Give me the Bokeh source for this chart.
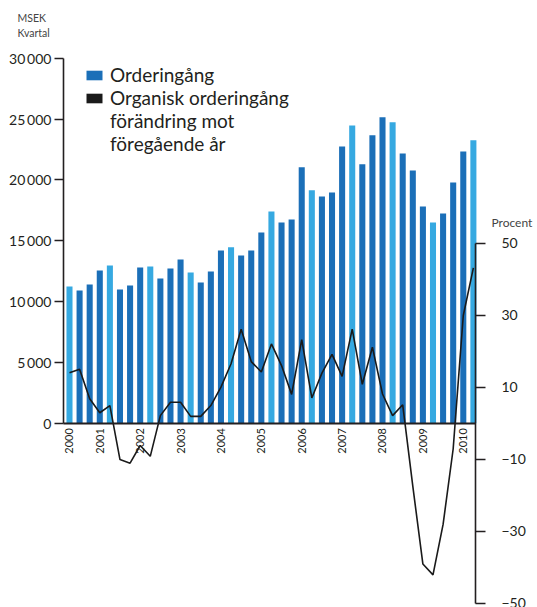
import math
from bokeh.plotting import figure
from bokeh.models import (Range1d, LinearAxis, FixedTicker, ColumnDataSource,
                          Legend, LegendItem, Label)
from bokeh.embed import file_html
from bokeh.resources import INLINE

# ---------------- data ----------------
years = list(range(2000, 2011))
quarters = [f"{y} K{q}" for y in years for q in (1, 2, 3, 4)][1:42]  # 2000 K2 .. 2010 K2

orders = [11240, 10910, 11410, 12560, 12970, 10990, 11320, 12800, 12890, 11900,
          12720, 13460, 12390, 11570, 12480, 14200, 14470, 13790, 14200, 15680,
          17410, 16500, 16750, 21030, 19140, 18640, 18970, 22750, 24480, 21280,
          23660, 25140, 24730, 22180, 20780, 17820, 16500, 17240, 19790, 22340,
          23250]

organic = [14.0, 15.0, 6.8, 2.9, 4.9, -10.1, -11.1, -6.2, -9.2, 2.1,
           5.8, 5.8, 1.9, 1.9, 4.9, 10.0, 16.5, 26.1, 17.1, 14.2,
           22.0, 16.0, 8.0, 23.2, 7.0, 13.9, 19.1, 13.0, 26.1, 10.8,
           21.1, 8.1, 2.1, 5.1, -17.5, -39.1, -42.1, -28.1, -7.1, 29.9,
           43.1]

left_ticks = [0, 5000, 10000, 15000, 20000, 25000, 30000]
left_tick_labels = ["0", "5\u2009000", "10\u2009000", "15\u2009000", "20\u2009000", "25\u2009000", "30\u2009000"]
right_ticks = [-50, -30, -10, 10, 30, 50]

legend_orders = "Orderingång"
legend_organic = ["Organisk orderingång", "förändring mot", "föregående år"]

# ---------------- styling ----------------
FONT = "Lato"
TXT = "#231f20"
DARK = "#1b6fb8"
LIGHT = "#36a9e1"

idx = list(range(len(quarters)))
is_q2 = [q.endswith("K2") for q in quarters]

src_dark = ColumnDataSource(dict(x=[i for i in idx if not is_q2[i]],
                                 top=[orders[i] for i in idx if not is_q2[i]]))
src_light = ColumnDataSource(dict(x=[i for i in idx if is_q2[i]],
                                  top=[orders[i] for i in idx if is_q2[i]]))
src_line = ColumnDataSource(dict(x=idx, y=organic))

X0, X1 = -0.6, 40.2  # data extent of the axes (left / right axis positions)

p = figure(width=537, height=607,
           x_range=Range1d(-6.833, 46.35), y_range=Range1d(-15150, 34747),
           output_backend="svg", toolbar_location=None, min_border=0)
p.outline_line_color = None
p.grid.visible = False
p.extra_y_ranges = {"pct": Range1d(-51.17, 117.35)}

r_dark = p.vbar(x="x", top="top", width=0.6, bottom=0, source=src_dark,
                fill_color=DARK, line_color=None)
p.vbar(x="x", top="top", width=0.6, bottom=0, source=src_light,
       fill_color=LIGHT, line_color=None)
p.line(x="x", y="y", source=src_line, y_range_name="pct",
       line_color="#1a1a1a", line_width=1.6)
# legend swatches (not drawn in the plot)
r_proxy = p.vbar(x="x", top="y", width=0.6, source=src_line, y_range_name="pct",
                 fill_color="#1a1a1a", line_color=None, visible=False)
r_blank = p.vbar(x="x", top="y", width=0.6, source=src_line, y_range_name="pct",
                 fill_alpha=0, line_alpha=0, visible=False)

# left axis
ya = p.yaxis[0]
ya.fixed_location = X0
ya.bounds = (0, 30000)
ya.ticker = FixedTicker(ticks=left_ticks)
ya.major_label_overrides = {t: l for t, l in zip(left_ticks, left_tick_labels)}
ya.minor_tick_line_color = None
ya.major_tick_in = 0
ya.major_tick_out = 9
ya.major_label_standoff = 3
ya.axis_line_width = 1.6
ya.major_tick_line_width = 1.6
ya.axis_line_color = TXT
ya.major_tick_line_color = TXT
ya.major_label_text_font = FONT
ya.major_label_text_font_size = "14px"
ya.major_label_text_color = TXT

# right axis
ra = LinearAxis(y_range_name="pct", bounds=(-50, 50), ticker=FixedTicker(ticks=right_ticks))
ra.fixed_location = X1
ra.minor_tick_line_color = None
ra.major_tick_in = 0
ra.major_tick_out = 10
ra.major_label_standoff = 16
ra.axis_line_width = 1.6
ra.major_tick_line_width = 1.6
ra.axis_line_color = TXT
ra.major_tick_line_color = TXT
ra.major_label_text_font = FONT
ra.major_label_text_font_size = "14px"
ra.major_label_text_color = TXT
p.add_layout(ra, "right")

# x axis at y=0
year_ticks = [i for i in idx if i == 0 or quarters[i].endswith("K1")]
xa = p.xaxis[0]
xa.fixed_location = 0
xa.bounds = (X0, X1)
xa.ticker = FixedTicker(ticks=year_ticks)
xa.major_label_overrides = {i: quarters[i][:4] for i in year_ticks}
xa.major_label_orientation = math.pi / 2
xa.minor_tick_line_color = None
xa.major_tick_line_color = None
xa.major_tick_in = 0
xa.major_tick_out = 0
xa.major_label_standoff = 5
xa.axis_line_width = 2
xa.axis_line_color = TXT
xa.major_label_text_font = FONT
xa.major_label_text_font_size = "11px"
xa.major_label_text_color = TXT

# texts
for txt, y in (("MSEK", 33268), ("Kvartal", 32035)):
    p.add_layout(Label(x=-5.15, y=y, text=txt, text_font=FONT, text_font_size="10.5px",
                       text_color="#444444", text_baseline="middle", text_align="left"))
p.add_layout(Label(x=41.79, y=16498, text="Procent", text_font=FONT, text_font_size="12px",
                   text_color="#444444", text_baseline="middle", text_align="left"))

legend = Legend(items=[LegendItem(label=legend_orders, renderers=[r_dark]),
                       LegendItem(label=legend_organic[0], renderers=[r_proxy]),
                       LegendItem(label=legend_organic[1], renderers=[r_blank]),
                       LegendItem(label=legend_organic[2], renderers=[r_blank])],
                location=(84, 452), glyph_width=20, glyph_height=12,
                label_text_font=FONT, label_text_font_size="19px", label_text_color=TXT,
                label_text_line_height=0.95, label_height=19,
                label_standoff=6, spacing=0, padding=0, margin=0,
                inactive_fill_alpha=0, inactive_fill_color=None,
                border_line_color=None, background_fill_alpha=0)
p.add_layout(legend)

open("out.html", "w").write(file_html(p, INLINE))
